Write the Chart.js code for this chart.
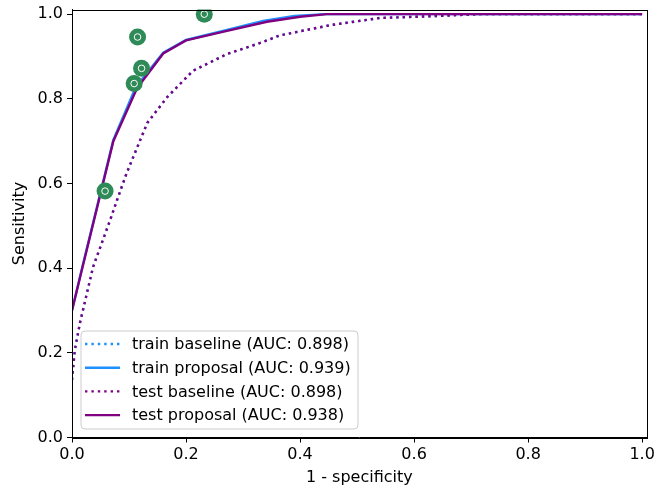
<!DOCTYPE html>
<html>
<head>
<meta charset="utf-8">
<script src="https://cdn.jsdelivr.net/npm/chart.js@4/dist/chart.umd.min.js"></script>
<style>
  body { margin: 0; background: #fff; }
  #wrap { width: 655px; height: 490px; }
</style>
</head>
<body>
<div id="wrap"><canvas id="rocChart" width="655" height="490"></canvas></div>
<script>
// ROC curves
const trainBaselineFpr = [0, 0.005, 0.014, 0.037, 0.067, 0.079, 0.096, 0.132, 0.167, 0.212, 0.272, 0.330, 0.365, 0.453, 0.540, 0.628, 0.716, 1.0];
const trainBaselineTpr = [0.136, 0.207, 0.271, 0.403, 0.514, 0.561, 0.625, 0.743, 0.804, 0.866, 0.906, 0.932, 0.950, 0.974, 0.991, 0.995, 1.0, 1.0];

const trainProposalFpr = [0, 0.019, 0.0725, 0.112, 0.16, 0.2, 0.27, 0.335, 0.39, 0.445, 1.0];
const trainProposalTpr = [0.30, 0.408, 0.703, 0.828, 0.909, 0.939, 0.962, 0.984, 0.996, 1.0, 1.0];

const testBaselineFpr = [0, 0.005, 0.014, 0.037, 0.067, 0.079, 0.096, 0.132, 0.167, 0.212, 0.272, 0.330, 0.365, 0.453, 0.540, 0.628, 0.716, 1.0];
const testBaselineTpr = [0.136, 0.207, 0.271, 0.403, 0.514, 0.561, 0.625, 0.743, 0.804, 0.866, 0.906, 0.932, 0.950, 0.974, 0.991, 0.995, 1.0, 1.0];

const testProposalFpr = [0, 0.019, 0.0725, 0.114, 0.16, 0.2, 0.27, 0.342, 0.40, 0.447, 1.0];
const testProposalTpr = [0.30, 0.405, 0.70, 0.825, 0.907, 0.938, 0.96, 0.982, 0.994, 1.0, 1.0];

// operating points (green markers)
const pointFpr = [0.058, 0.109, 0.122, 0.115, 0.232];
const pointTpr = [0.582, 0.836, 0.872, 0.946, 1.0];

const seriesLabels = [
    'train baseline (AUC: 0.898)',
    'train proposal (AUC: 0.939)',
    'test baseline (AUC: 0.898)',
    'test proposal (AUC: 0.938)'
];
const xTicks = [0, 0.2, 0.4, 0.6, 0.8, 1.0];
const yTicks = [0, 0.2, 0.4, 0.6, 0.8, 1.0];

const BLUE = '#1e90ff';
const PURPLE = '#800080';
const GREEN = '#2e8b57';
const FONT = 'DejaVu Sans';
const DOTS = [2.4, 4];

function toXY(xs, ys) {
    return xs.map((x, i) => ({ x: x, y: ys[i] }));
}

function lineSet(label, xs, ys, color, dotted, order) {
    return {
        label: label,
        data: toXY(xs, ys),
        showLine: true,
        borderColor: color,
        backgroundColor: color,
        borderWidth: 2.4,
        borderDash: dotted ? DOTS : [],
        pointRadius: 0,
        tension: 0,
        order: order
    };
}

// box around the plot + legend drawn inside the axes
const framePlugin = {
    id: 'frame',
    afterDatasetsDraw(chart) {
        const ctx = chart.ctx;
        const a = chart.chartArea;
        ctx.save();
        ctx.strokeStyle = '#000';
        ctx.lineWidth = 1;
        ctx.strokeRect(Math.round(a.left) + 0.5, Math.round(a.top) + 0.5,
            Math.round(a.right - a.left), Math.round(a.bottom - a.top));

        // legend
        const x0 = a.left + 9, y0 = a.bottom - 106.5, w = 277, h = 98, r = 4;
        ctx.beginPath();
        ctx.moveTo(x0 + r, y0);
        ctx.arcTo(x0 + w, y0, x0 + w, y0 + h, r);
        ctx.arcTo(x0 + w, y0 + h, x0, y0 + h, r);
        ctx.arcTo(x0, y0 + h, x0, y0, r);
        ctx.arcTo(x0, y0, x0 + w, y0, r);
        ctx.closePath();
        ctx.fillStyle = 'rgba(255,255,255,0.8)';
        ctx.fill();
        ctx.strokeStyle = '#cccccc';
        ctx.stroke();

        const colors = [BLUE, BLUE, PURPLE, PURPLE];
        const dotted = [true, false, true, false];
        ctx.font = '16px "' + FONT + '"';
        ctx.textBaseline = 'middle';
        for (let i = 0; i < seriesLabels.length; i++) {
            const yy = y0 + 13 + i * 23.7;
            ctx.beginPath();
            ctx.setLineDash(dotted[i] ? DOTS : []);
            ctx.strokeStyle = colors[i];
            ctx.lineWidth = 2.4;
            ctx.moveTo(x0 + 4, yy);
            ctx.lineTo(x0 + 39, yy);
            ctx.stroke();
            ctx.setLineDash([]);
            ctx.fillStyle = '#000';
            ctx.fillText(seriesLabels[i], x0 + 51, yy + 1);
        }
        ctx.restore();
    }
};

new Chart(document.getElementById('rocChart').getContext('2d'), {
    type: 'scatter',
    data: {
        datasets: [
            lineSet(seriesLabels[0], trainBaselineFpr, trainBaselineTpr, BLUE, true, 6),
            lineSet(seriesLabels[1], trainProposalFpr, trainProposalTpr, BLUE, false, 5),
            lineSet(seriesLabels[2], testBaselineFpr, testBaselineTpr, PURPLE, true, 4),
            lineSet(seriesLabels[3], testProposalFpr, testProposalTpr, PURPLE, false, 3),
            {
                label: 'points',
                data: toXY(pointFpr, pointTpr),
                pointRadius: 8.5,
                pointBackgroundColor: GREEN,
                pointBorderWidth: 0,
                order: 2
            },
            {
                label: 'points inner',
                data: toXY(pointFpr, pointTpr),
                pointRadius: 3.3,
                pointBackgroundColor: 'rgba(0,0,0,0)',
                pointBorderColor: '#ffffff',
                pointBorderWidth: 1,
                order: 1
            }
        ]
    },
    options: {
        responsive: false,
        animation: false,
        layout: { autoPadding: false, padding: { left: 0, top: 9.5, right: 8.3, bottom: 0 } },
        plugins: {
            legend: { display: false },
            tooltip: { enabled: false }
        },
        scales: {
            x: {
                type: 'linear',
                min: 0,
                max: 1.008,
                afterBuildTicks: (s) => { s.ticks = xTicks.map(v => ({ value: v })); },
                afterFit: (s) => { s.height = 52.5; s.paddingLeft = 0; s.paddingRight = 0; },
                ticks: {
                    callback: (v) => v.toFixed(1),
                    color: '#000',
                    font: { family: FONT, size: 16 },
                    padding: 3,
                    maxRotation: 0
                },
                grid: { drawOnChartArea: false, drawTicks: true, tickLength: 5, color: '#000' },
                border: { color: '#000', width: 1 },
                title: {
                    display: true,
                    text: '1 - specificity',
                    color: '#000',
                    font: { family: FONT, size: 16 },
                    padding: { top: 0, bottom: 2.4 }
                }
            },
            y: {
                type: 'linear',
                min: 0,
                max: 1.011,
                afterBuildTicks: (s) => { s.ticks = yTicks.map(v => ({ value: v })); },
                afterFit: (s) => { s.width = 72; s.paddingTop = 0; s.paddingBottom = 0; },
                ticks: {
                    callback: (v) => v.toFixed(1),
                    color: '#000',
                    font: { family: FONT, size: 16 },
                    padding: 4
                },
                grid: { drawOnChartArea: false, drawTicks: true, tickLength: 5, color: '#000' },
                border: { color: '#000', width: 1 },
                title: {
                    display: true,
                    text: 'Sensitivity',
                    color: '#000',
                    font: { family: FONT, size: 16 },
                    padding: { top: 10.4, bottom: 0 }
                }
            }
        }
    },
    plugins: [framePlugin]
});
</script>
</body>
</html>
